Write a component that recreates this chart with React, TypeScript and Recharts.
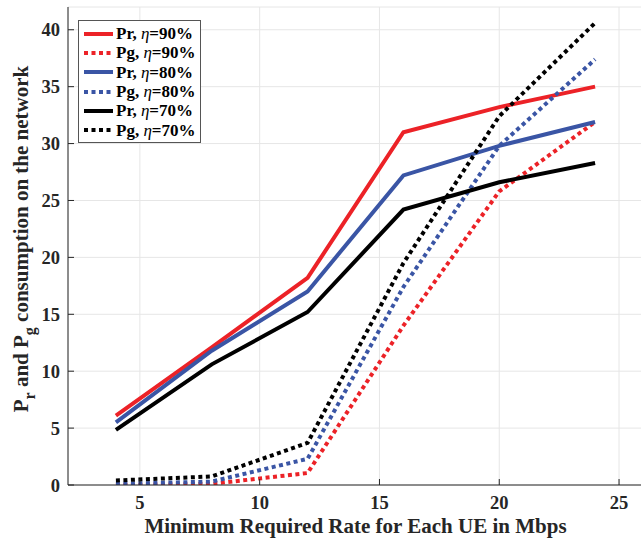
import { LineChart, Line, XAxis, YAxis, CartesianGrid, Legend, Label } from 'recharts'

const rates = [4, 8, 12, 16, 20, 24]
const pr90 = [6.1, 12.1, 18.2, 31.0, 33.2, 35.0]
const pg90 = [0, 0.1, 1.05, 14.0, 25.8, 31.9]
const pr80 = [5.5, 11.8, 17.0, 27.2, 29.8, 31.9]
const pg80 = [0.1, 0.3, 2.3, 17.4, 29.8, 37.4]
const pr70 = [4.85, 10.6, 15.2, 24.2, 26.6, 28.3]
const pg70 = [0.4, 0.75, 3.7, 19.5, 32.4, 40.6]

const xTicks = [5, 10, 15, 20, 25]
const yTicks = [0, 5, 10, 15, 20, 25, 30, 35, 40]

const RED = '#ec2227'
const BLUE = '#3a55a5'
const BLACK = '#000000'
const AXIS = '#262626'
const FONT = '"Liberation Serif", "Times New Roman", serif'

const series = [
  { key: 'pr90', kind: 'Pr', eta: '90%', color: RED, dotted: false, values: pr90 },
  { key: 'pg90', kind: 'Pg', eta: '90%', color: RED, dotted: true, values: pg90 },
  { key: 'pr80', kind: 'Pr', eta: '80%', color: BLUE, dotted: false, values: pr80 },
  { key: 'pg80', kind: 'Pg', eta: '80%', color: BLUE, dotted: true, values: pg80 },
  { key: 'pr70', kind: 'Pr', eta: '70%', color: BLACK, dotted: false, values: pr70 },
  { key: 'pg70', kind: 'Pg', eta: '70%', color: BLACK, dotted: true, values: pg70 },
]

const data = rates.map((rate, i) => {
  const row: Record<string, number> = { rate }
  series.forEach(s => { row[s.key] = s.values[i] })
  return row
})

const tickStyle = { fontFamily: FONT, fontSize: 18.5, fontWeight: 700, fill: AXIS }

// legend drawn from the same series list, kept out of the layout
function renderLegend() {
  return (
    <div style={{
      border: '1px solid #555', background: '#fff', padding: '3px 4px 2px 5px',
      fontFamily: FONT, fontWeight: 700, fontSize: 17, color: '#000', lineHeight: 1
    }}>
      {series.map(s => (
        <div key={s.key} style={{ display: 'flex', alignItems: 'center', height: 19.3 }}>
          <svg width={29} height={8} style={{ marginRight: 3 }}>
            <line x1={0} y1={4} x2={29} y2={4} stroke={s.color} strokeWidth={4}
              strokeDasharray={s.dotted ? '4 3.5' : undefined} />
          </svg>
          <span style={{ whiteSpace: 'nowrap' }}>
            {s.kind}, <span style={{ fontStyle: 'italic', fontWeight: 400 }}>η</span>={s.eta}
          </span>
        </div>
      ))}
    </div>
  )
}

function YTitle() {
  return (
    <text transform="translate(28, 239) rotate(-90)" textAnchor="middle"
      style={{ fontFamily: FONT, fontSize: 21, fontWeight: 700, fill: AXIS }}>
      <tspan>P</tspan>
      <tspan dy={7} fontSize={16}>r</tspan>
      <tspan dy={-7}> and P</tspan>
      <tspan dy={7} fontSize={16}>g</tspan>
      <tspan dy={-7}> consumption on the network</tspan>
    </text>
  )
}

export default function App() {
  return (
    <div style={{ position: 'absolute', left: 0, top: 0, width: 641, height: 540, overflow: 'hidden', background: '#fff' }}>
      <LineChart width={660} height={540} data={data} margin={{ top: 7, right: 17, left: 0, bottom: 0 }}>
        <CartesianGrid stroke="#e6e6e6" strokeWidth={1} />
        <XAxis dataKey="rate" type="number" domain={[2, 26]} ticks={xTicks} allowDataOverflow
          height={55} tickSize={-6} tickMargin={17} tick={tickStyle}
          axisLine={{ stroke: AXIS }} tickLine={{ stroke: AXIS }}>
          <Label value="Minimum Required Rate for Each UE in Mbps" position="insideBottom" offset={7}
            style={{ fontFamily: FONT, fontSize: 21, fontWeight: 700, fill: AXIS }} />
        </XAxis>
        <XAxis xAxisId="top" orientation="top" type="number" domain={[2, 26]} ticks={xTicks}
          height={0} tickSize={-6} tick={false} axisLine={{ stroke: AXIS }} tickLine={{ stroke: AXIS }} />
        <YAxis type="number" domain={[0, 42]} ticks={yTicks} allowDataOverflow width={68}
          tickSize={-6} tickMargin={14} tick={tickStyle}
          axisLine={{ stroke: AXIS }} tickLine={{ stroke: AXIS }}>
          <Label content={YTitle} />
        </YAxis>
        <YAxis yAxisId="right" orientation="right" type="number" domain={[0, 42]} ticks={yTicks}
          width={0} tickSize={-6} tick={false} axisLine={{ stroke: AXIS }} tickLine={{ stroke: AXIS }} />
        <Legend content={renderLegend} layout="vertical" align="center" verticalAlign="middle"
          wrapperStyle={{ left: 78, top: 20, width: 'auto', height: 'auto' }} />
        {series.map(s => (
          <Line key={s.key} dataKey={s.key} name={`${s.kind}, η=${s.eta}`} stroke={s.color}
            strokeWidth={4} strokeDasharray={s.dotted ? '4 3.5' : undefined}
            dot={false} activeDot={false} isAnimationActive={false} />
        ))}
      </LineChart>
    </div>
  )
}
